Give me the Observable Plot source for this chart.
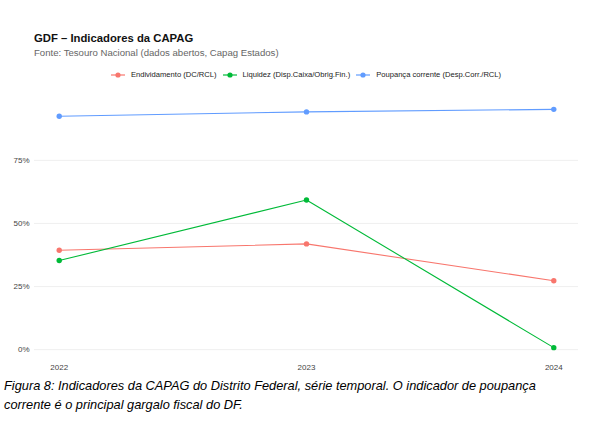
<!DOCTYPE html>
<html>
<head>
<meta charset="utf-8">
<script src="https://cdn.jsdelivr.net/npm/d3@7"></script>
<script src="https://cdn.jsdelivr.net/npm/@observablehq/plot@0.6"></script>
<style>
  body { margin: 0; background: #fff; font-family: "Liberation Sans", Arial, sans-serif; }
  #wrap { width: 599px; height: 433px; position: relative; }
  #title { position: absolute; left: 34px; top: 32px; font-size: 11.3px; font-weight: bold; color: #111; }
  #subtitle { position: absolute; left: 34px; top: 47px; font-size: 9.6px; color: #666; }
  #legend { position: absolute; left: 0; width: 612px; top: 70px; display: flex; justify-content: center; gap: 6px; font-size: 7.6px; color: #222; }
  #legend span { display: inline-flex; align-items: center; gap: 6px; }
  #chart { position: absolute; left: 0; top: 88px; }
  #caption { position: absolute; left: 4px; top: 376px; width: 548px; font-size: 12.8px; font-style: italic; line-height: 19px; color: #000; }
</style>
</head>
<body>
<div id="wrap">
  <div id="title">GDF – Indicadores da CAPAG</div>
  <div id="subtitle">Fonte: Tesouro Nacional (dados abertos, Capag Estados)</div>
  <div id="legend"></div>
  <div id="chart"></div>
  <div id="caption">Figura 8: Indicadores da CAPAG do Distrito Federal, série temporal. O indicador de poupança corrente é o principal gargalo fiscal do DF.</div>
</div>
<script>
// anos e séries (em fração)
const anos = [2022, 2023, 2024];
const endividamento = [0.394, 0.419, 0.273];
const liquidez = [0.353, 0.593, 0.008];
const poupanca = [0.925, 0.942, 0.952];

const series = ["Endividamento (DC/RCL)", "Liquidez (Disp.Caixa/Obrig.Fin.)", "Poupança corrente (Desp.Corr./RCL)"];
const cores = ["#F8766D", "#00BA38", "#619CFF"];
const yTicks = [0, 0.25, 0.5, 0.75];

const dados = [];
[endividamento, liquidez, poupanca].forEach((vals, i) => {
  vals.forEach((v, j) => dados.push({ ano: anos[j], valor: v, serie: series[i] }));
});

// legenda
const legend = d3.select("#legend");
series.forEach((s, i) => {
  const item = legend.append("span");
  const sw = item.append("svg").attr("width", 14).attr("height", 8);
  sw.append("line").attr("x1", 0).attr("x2", 14).attr("y1", 4).attr("y2", 4).attr("stroke", cores[i]).attr("stroke-width", 1.2);
  sw.append("circle").attr("cx", 7).attr("cy", 4).attr("r", 2.6).attr("fill", cores[i]);
  item.append("span").text(s);
});

const chart = Plot.plot({
  width: 599,
  height: 287,
  marginLeft: 34,
  marginRight: 21,
  marginTop: 9,
  marginBottom: 16,
  style: { fontFamily: "Liberation Sans, Arial, sans-serif", fontSize: "8px", color: "#444" },
  x: { domain: [2021.9, 2024.1], ticks: anos, tickFormat: d => String(d), tickSize: 0, tickPadding: 5, label: null },
  y: { domain: [-0.039, 0.999], ticks: yTicks, tickFormat: d3.format(".0%"), tickSize: 0, tickPadding: 5, label: null },
  color: { domain: series, range: cores },
  marks: [
    Plot.ruleY(yTicks, { stroke: "#ebebeb", strokeWidth: 0.8 }),
    Plot.line(dados, { x: "ano", y: "valor", z: "serie", stroke: "serie", strokeWidth: 1.1 }),
    Plot.dot(dados, { x: "ano", y: "valor", fill: "serie", r: 2.7 })
  ]
});

d3.select("#chart").append(() => chart);
</script>
</body>
</html>
